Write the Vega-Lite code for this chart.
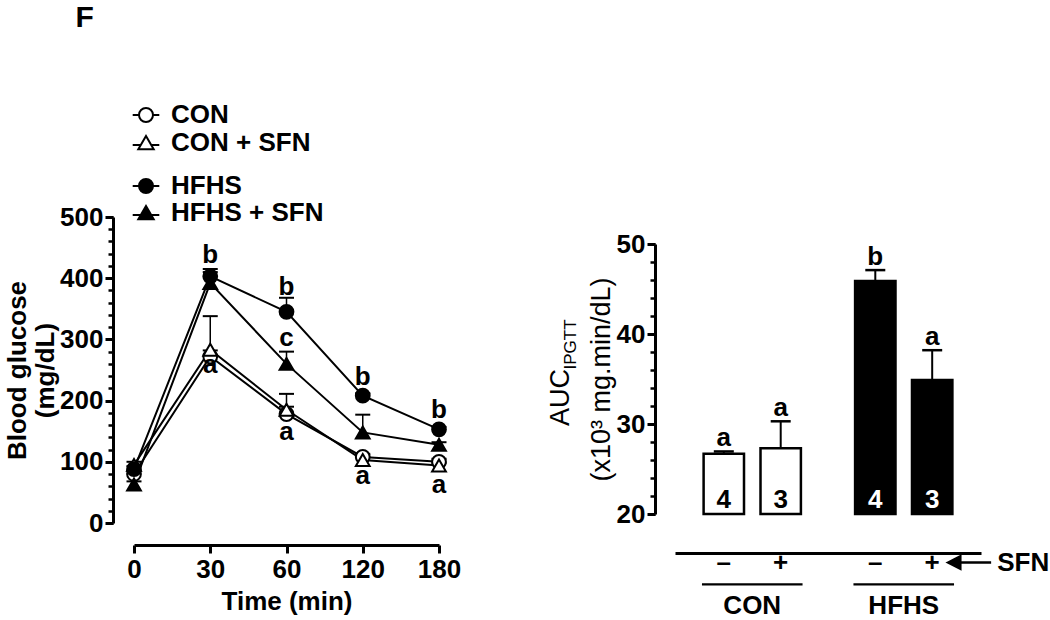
{
  "$schema": "https://vega.github.io/schema/vega-lite/v6.json",
  "autosize": {"type": "pad"},
  "padding": {"left": 4, "top": 3, "right": 0, "bottom": 0},
  "background": "white",
  "title": {"text": "F", "anchor": "start", "frame": "bounds", "fontSize": 30, "fontWeight": "bold", "font": "Liberation Sans", "color": "black", "dx": 71, "offset": 69},
  "config": {
    "view": {"stroke": null},
    "font": "Liberation Sans",
    "axis": {"grid": false, "domainColor": "black", "tickColor": "black", "labelColor": "black", "titleColor": "black", "labelFont": "Liberation Sans", "titleFont": "Liberation Sans"},
    "legend": {"labelFont": "Liberation Sans", "labelColor": "black"}
  },
  "datasets": {
    "ipgtt": [
      {"group": "CON", "time": 0, "glucose": 80, "upper": 85},
      {"group": "CON", "time": 30, "glucose": 272, "upper": 282},
      {"group": "CON", "time": 60, "glucose": 178, "upper": 190},
      {"group": "CON", "time": 120, "glucose": 108, "upper": 113},
      {"group": "CON", "time": 180, "glucose": 100, "upper": 105},
      {"group": "CON + SFN", "time": 0, "glucose": 95, "upper": 100},
      {"group": "CON + SFN", "time": 30, "glucose": 283, "upper": 338},
      {"group": "CON + SFN", "time": 60, "glucose": 185, "upper": 211},
      {"group": "CON + SFN", "time": 120, "glucose": 103, "upper": 107},
      {"group": "CON + SFN", "time": 180, "glucose": 94, "upper": 98},
      {"group": "HFHS", "time": 0, "glucose": 88, "upper": 93},
      {"group": "HFHS", "time": 30, "glucose": 403, "upper": 415},
      {"group": "HFHS", "time": 60, "glucose": 345, "upper": 368},
      {"group": "HFHS", "time": 120, "glucose": 208, "upper": 212},
      {"group": "HFHS", "time": 180, "glucose": 153, "upper": 157},
      {"group": "HFHS + SFN", "time": 0, "glucose": 63, "upper": 68},
      {"group": "HFHS + SFN", "time": 30, "glucose": 392, "upper": 410},
      {"group": "HFHS + SFN", "time": 60, "glucose": 260, "upper": 280},
      {"group": "HFHS + SFN", "time": 120, "glucose": 148, "upper": 177},
      {"group": "HFHS + SFN", "time": 180, "glucose": 128, "upper": 132}
    ],
    "letters": [
      {"time": 30, "level": 425, "label": "b"},
      {"time": 30, "level": 245, "label": "a"},
      {"time": 60, "level": 373, "label": "b"},
      {"time": 60, "level": 289, "label": "c"},
      {"time": 60, "level": 136, "label": "a"},
      {"time": 120, "level": 226, "label": "b"},
      {"time": 120, "level": 63, "label": "a"},
      {"time": 180, "level": 172, "label": "b"},
      {"time": 180, "level": 49, "label": "a"}
    ],
    "auc": [
      {"group": "CON", "sfn": "–", "auc": 26.7, "upper": 26.95, "n": "4", "letter": "a"},
      {"group": "CON", "sfn": "+", "auc": 27.3, "upper": 30.3, "n": "3", "letter": "a"},
      {"group": "HFHS", "sfn": "–", "auc": 45.9, "upper": 47.1, "n": "4", "letter": "b"},
      {"group": "HFHS", "sfn": "+", "auc": 34.9, "upper": 38.2, "n": "3", "letter": "a"}
    ]
  },
  "bounds": "flush",
  "spacing": 236,
  "hconcat": [
    {
      "width": 305,
      "height": 306,
      "data": {"name": "ipgtt"},
      "encoding": {
        "x": {"field": "time", "type": "ordinal", "scale": {"type": "point", "padding": 0},
          "axis": {"title": "Time (min)", "offset": 22, "domainWidth": 3, "tickWidth": 3, "tickSize": 8, "labelAngle": 0, "labelFontSize": 26, "labelFontWeight": "bold", "labelPadding": 3, "titleFontSize": 26, "titleFontWeight": "bold", "titlePadding": 6}}
      },
      "layer": [
        {
          "mark": {"type": "line", "color": "black", "strokeWidth": 2},
          "encoding": {
            "y": {"field": "glucose", "type": "quantitative", "scale": {"domain": [0, 500]},
              "axis": {"orient": "left", "values": [0, 100, 200, 300, 400, 500], "offset": 21, "domainWidth": 3, "tickWidth": 3, "tickSize": 8, "labelFontSize": 26, "labelFontWeight": "bold", "labelPadding": 2, "title": ["Blood glucose", "(mg/dL)"], "titleFontSize": 26, "titleFontWeight": "bold", "titleLineHeight": 28, "titlePadding": 1}},
            "detail": {"field": "group"}
          }
        },
        {
          "mark": {"type": "rule", "color": "black", "strokeWidth": 1.5},
          "encoding": {
            "y": {"field": "glucose", "type": "quantitative",
              "axis": {"orient": "left", "values": [0, 20, 40, 60, 80, 100, 120, 140, 160, 180, 200, 220, 240, 260, 280, 300, 320, 340, 360, 380, 400, 420, 440, 460, 480, 500], "offset": 21, "domain": false, "labels": false, "tickWidth": 2.5, "tickSize": 5, "title": null}},
            "y2": {"field": "upper"}
          }
        },
        {
          "mark": {"type": "point", "shape": "stroke", "size": 225, "color": "black", "strokeWidth": 2, "opacity": 1},
          "encoding": {"y": {"field": "upper", "type": "quantitative", "axis": null}}
        },
        {
          "transform": [{"filter": "indexof(datum.group, 'CON') === 0"}],
          "mark": {"type": "point", "fill": "white", "stroke": "black", "strokeWidth": 2, "size": 190, "opacity": 1},
          "encoding": {
            "y": {"field": "glucose", "type": "quantitative", "axis": null},
            "shape": {"field": "group", "type": "nominal", "scale": {"domain": ["CON", "CON + SFN"], "range": ["circle", "triangle-up"]}, "legend": null}
          }
        },
        {
          "transform": [{"filter": "indexof(datum.group, 'HFHS') === 0"}],
          "mark": {"type": "point", "fill": "black", "stroke": "black", "strokeWidth": 2, "size": 190, "opacity": 1},
          "encoding": {
            "y": {"field": "glucose", "type": "quantitative", "axis": null},
            "shape": {"field": "group", "type": "nominal", "scale": {"domain": ["HFHS", "HFHS + SFN"], "range": ["circle", "triangle-up"]}, "legend": null}
          }
        },
        {
          "transform": [{"filter": "false"}],
          "mark": {"type": "point", "fill": "white", "stroke": "black", "strokeWidth": 2, "opacity": 1},
          "encoding": {
            "y": {"field": "glucose", "type": "quantitative", "axis": null},
            "shape": {"field": "group", "type": "nominal",
              "scale": {"domain": ["CON", "CON + SFN"], "range": ["M-1.9,0H-1M1,0H1.9M-1,0A1,1,0,1,1,1,0A1,1,0,1,1,-1,0Z", "M-1.9,0.3H-0.7M0.7,0.3H1.9M0,-1L1.1,0.9L-1.1,0.9Z"]},
              "legend": {"orient": "none", "legendX": -1, "legendY": -115, "title": null, "padding": 0, "labelFontSize": 26, "labelFontWeight": "bold", "labelOffset": 12, "rowPadding": 2, "symbolSize": 196, "symbolStrokeWidth": 2,
                "encode": {"symbols": {"update": {"stroke": {"value": "black"}, "strokeWidth": {"value": 2}, "fill": {"value": "white"}}}}}}
          }
        },
        {
          "transform": [{"filter": "false"}],
          "mark": {"type": "point", "fill": "black", "stroke": "black", "strokeWidth": 2, "opacity": 1},
          "encoding": {
            "y": {"field": "glucose", "type": "quantitative", "axis": null},
            "shape": {"field": "group", "type": "nominal",
              "scale": {"domain": ["HFHS", "HFHS + SFN"], "range": ["M-1.9,0H-1M1,0H1.9M-1,0A1,1,0,1,1,1,0A1,1,0,1,1,-1,0Z", "M-1.9,0.3H-0.7M0.7,0.3H1.9M0,-1L1.1,0.9L-1.1,0.9Z"]},
              "legend": {"orient": "none", "legendX": -1, "legendY": -44, "title": null, "padding": 0, "labelFontSize": 26, "labelFontWeight": "bold", "labelOffset": 12, "rowPadding": 1, "symbolSize": 196, "symbolStrokeWidth": 2,
                "encode": {"symbols": {"update": {"stroke": {"value": "black"}, "strokeWidth": {"value": 2}, "fill": {"value": "black"}}}}}}
          }
        },
        {
          "data": {"name": "letters"},
          "mark": {"type": "text", "fontSize": 26, "fontWeight": "bold", "font": "Liberation Sans", "color": "black", "baseline": "alphabetic"},
          "encoding": {
            "y": {"field": "level", "type": "quantitative", "axis": null},
            "text": {"field": "label"}
          }
        }
      ],
      "resolve": {"scale": {"shape": "independent"}, "axis": {"y": "independent"}, "legend": {"shape": "independent"}}
    },
    {
      "width": 306,
      "height": 306,
      "data": {"name": "auc"},
      "encoding": {
        "x": {"field": "group", "type": "nominal", "sort": ["CON", "HFHS"], "scale": {"paddingInner": 0.2, "paddingOuter": 0.11},
          "axis": {"title": null, "ticks": false, "offset": 30, "domainWidth": 3, "labelAngle": 0, "labelFontSize": 26, "labelFontWeight": "bold", "labelPadding": 39}}
      },
      "layer": [
        {
          "mark": {"type": "bar", "stroke": "black", "strokeWidth": 2.5},
          "encoding": {
            "xOffset": {"field": "sfn", "sort": ["–", "+"], "scale": {"paddingInner": 0.29, "paddingOuter": 0.21}},
            "y": {"field": "auc", "type": "quantitative", "scale": {"domain": [20, 50], "range": [297, 27]},
              "axis": {"orient": "left", "values": [20, 30, 40, 50], "offset": 20, "domainWidth": 3, "tickWidth": 3, "tickSize": 8, "labelFontSize": 26, "labelFontWeight": "bold", "labelPadding": 2, "title": "(x10³ mg.min/dL)", "titleFontSize": 27, "titleFontWeight": "normal", "titlePadding": 1}},
            "y2": {"datum": 20},
            "fill": {"condition": {"test": "datum.group === 'HFHS'", "value": "black"}, "value": "white"}
          }
        },
        {
          "mark": {"type": "rule", "color": "black", "strokeWidth": 2},
          "encoding": {
            "xOffset": {"field": "sfn", "sort": ["–", "+"]},
            "y": {"field": "auc", "type": "quantitative",
              "axis": {"orient": "left", "values": [20, 22, 24, 26, 28, 30, 32, 34, 36, 38, 40, 42, 44, 46, 48, 50], "offset": 20, "domain": false, "labels": false, "tickWidth": 2.5, "tickSize": 5, "title": "AUC", "titleFontSize": 27, "titleFontWeight": "normal", "titleX": -81, "titleY": 180, "titleAngle": -90}},
            "y2": {"field": "upper"}
          }
        },
        {
          "mark": {"type": "point", "shape": "stroke", "size": 400, "color": "black", "strokeWidth": 2.5, "opacity": 1},
          "encoding": {
            "xOffset": {"field": "sfn", "sort": ["–", "+"]},
            "y": {"field": "upper", "type": "quantitative",
              "axis": {"orient": "left", "offset": 20, "domain": false, "labels": false, "ticks": false, "title": "IPGTT", "titleFontSize": 17, "titleFontWeight": "normal", "titleX": -76, "titleY": 127, "titleAngle": -90}}
          }
        },
        {
          "mark": {"type": "text", "fontSize": 26, "fontWeight": "bold", "color": "black", "baseline": "alphabetic", "dy": -5},
          "encoding": {
            "xOffset": {"field": "sfn", "sort": ["–", "+"]},
            "y": {"field": "upper", "type": "quantitative", "axis": null},
            "text": {"field": "letter"}
          }
        },
        {
          "mark": {"type": "text", "fontSize": 26, "fontWeight": "bold", "baseline": "middle"},
          "encoding": {
            "xOffset": {"field": "sfn", "sort": ["–", "+"]},
            "y": {"datum": 21.6, "axis": null},
            "text": {"field": "n"},
            "color": {"condition": {"test": "datum.group === 'HFHS'", "value": "white"}, "value": "black"}
          }
        },
        {
          "mark": {"type": "text", "fontSize": 26, "fontWeight": "bold", "baseline": "middle", "color": "black"},
          "encoding": {
            "xOffset": {"field": "sfn", "sort": ["–", "+"]},
            "y": {"datum": 14.6, "axis": null},
            "text": {"field": "sfn"}
          }
        },
        {
          "transform": [{"filter": "datum.sfn === '+'"}],
          "mark": {"type": "bar", "color": "black", "width": {"band": 0.83}},
          "encoding": {
            "y": {"datum": 12.3, "axis": null},
            "y2": {"datum": 12.05}
          }
        },
        {
          "transform": [{"filter": "datum.group === 'HFHS' && datum.sfn === '+'"}],
          "mark": {"type": "point", "shape": "M1.42,0L2.5,-0.55L2.5,0.55Z M2.5,0H5.24", "size": 506, "fill": "black", "stroke": "black", "strokeWidth": 2.5, "opacity": 1},
          "encoding": {
            "xOffset": {"field": "sfn", "sort": ["–", "+"]},
            "y": {"datum": 14.6, "axis": null}
          }
        },
        {
          "transform": [{"filter": "datum.group === 'HFHS' && datum.sfn === '+'"}],
          "mark": {"type": "text", "fontSize": 26, "fontWeight": "bold", "baseline": "middle", "align": "left", "dx": 65, "color": "black"},
          "encoding": {
            "xOffset": {"field": "sfn", "sort": ["–", "+"]},
            "y": {"datum": 14.6, "axis": null},
            "text": {"value": "SFN"}
          }
        }
      ],
      "resolve": {"axis": {"y": "independent"}}
    }
  ]
}
